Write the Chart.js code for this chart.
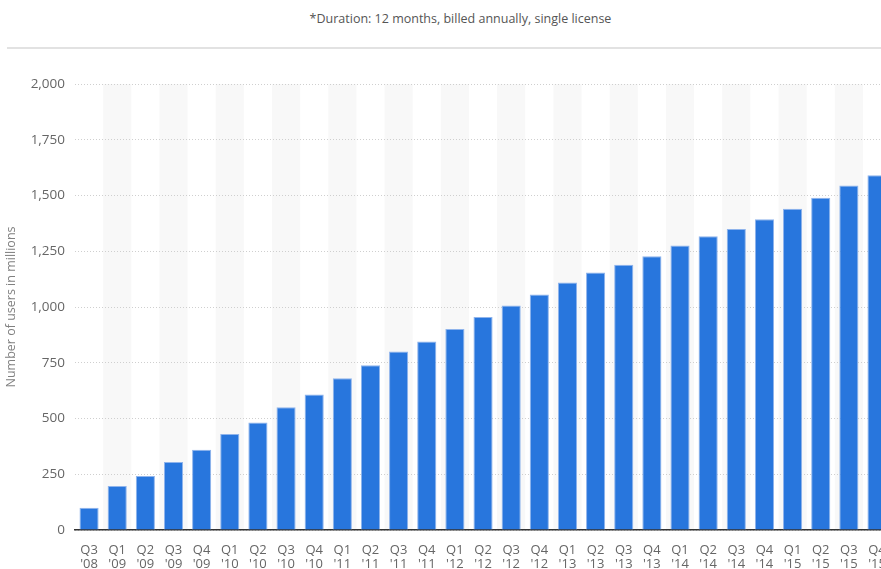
<!DOCTYPE html>
<html>
<head>
<meta charset="utf-8">
<script src="https://cdn.jsdelivr.net/npm/chart.js@4"></script>
<style>
  html, body { margin: 0; padding: 0; background: #fff; overflow: hidden; }
  body { width: 881px; height: 569px; position: relative; font-family: 'Open Sans', sans-serif; }
  .note { position: absolute; top: 10px; left: 20px; width: 881px; text-align: center; font-size: 12.5px; color: #555; }
  .rule { position: absolute; top: 47px; left: 7px; width: 874px; height: 2px; background: #e2e2e2; }
  .wrap { position: absolute; top: 55px; left: 0; width: 900px; height: 530px; }
</style>
</head>
<body>
<div class="note">*Duration: 12 months, billed annually, single license</div>
<div class="rule"></div>
<div class="wrap"><canvas id="grafica"></canvas></div>
<script>
const quarters = ['Q3', 'Q1', 'Q2', 'Q3', 'Q4', 'Q1', 'Q2', 'Q3', 'Q4', 'Q1', 'Q2', 'Q3', 'Q4',
  'Q1', 'Q2', 'Q3', 'Q4', 'Q1', 'Q2', 'Q3', 'Q4', 'Q1', 'Q2', 'Q3', 'Q4', 'Q1', 'Q2', 'Q3', 'Q4'];
const years = ["'08", "'09", "'09", "'09", "'09", "'10", "'10", "'10", "'10", "'11", "'11", "'11", "'11",
  "'12", "'12", "'12", "'12", "'13", "'13", "'13", "'13", "'14", "'14", "'14", "'14", "'15", "'15", "'15", "'15"];
const users = [100, 197, 242, 305, 360, 431, 482, 550, 608, 680, 739, 800, 845,
  901, 955, 1007, 1056, 1110, 1155, 1189, 1228, 1276, 1317, 1350, 1393, 1441, 1490, 1545, 1591];
const yTicks = [0, 250, 500, 750, 1000, 1250, 1500, 1750, 2000];

const etiquetas = quarters.map((q, i) => [q, years[i]]);

// light bands behind every other quarter
const bandas = {
  id: 'bandas',
  beforeDraw(chart) {
    const { ctx, chartArea, scales } = chart;
    const half = (chartArea.right - chartArea.left) / etiquetas.length / 2;
    ctx.save();
    ctx.fillStyle = '#f8f8f8';
    for (let i = 1; i < etiquetas.length; i += 2) {
      const x = scales.x.getPixelForValue(i);
      ctx.fillRect(x - half, chartArea.top, half * 2, chartArea.bottom - chartArea.top);
    }
    ctx.restore();
  },
};

const fuente = { family: 'Open Sans', size: 13 };

// eslint-disable-next-line no-new, no-undef
new Chart(document.querySelector('#grafica'), {
  type: 'bar',
  data: {
    labels: etiquetas,
    datasets: [{
      label: 'Users',
      data: users,
      backgroundColor: '#2876dd',
      borderColor: '#8fb4ec',
      borderWidth: { top: 1, left: 1, right: 1, bottom: 0 },
      categoryPercentage: 0.68,
      barPercentage: 1,
    }],
  },
  options: {
    responsive: true,
    maintainAspectRatio: false,
    animation: false,
    layout: { padding: { top: 29, right: 8, bottom: 0, left: 0 } },
    plugins: { legend: { display: false }, tooltip: { enabled: false } },
    scales: {
      x: {
        grid: { display: false, drawTicks: false },
        border: { display: true, color: '#333', width: 1.5 },
        ticks: {
          color: '#666', font: { ...fuente, lineHeight: '13.5px' }, padding: 14, maxRotation: 0, autoSkip: false,
        },
        afterFit(scale) { scale.height = 55; },
      },
      y: {
        min: 0,
        max: 2000,
        afterBuildTicks(scale) { scale.ticks = yTicks.map((v) => ({ value: v })); },
        grid: { color: '#cfcfcf', lineWidth: 1, drawTicks: false },
        border: { display: false, dash: [1, 2] },
        ticks: {
          color: '#666', font: { family: 'Open Sans', size: 13.5 }, padding: 10,
          callback: (v) => v.toLocaleString('en-US'),
        },
        title: {
          display: true, text: 'Number of users in millions', color: '#808080',
          font: { family: 'Open Sans', size: 12.5 }, padding: { top: 4, bottom: 0 },
        },
        afterFit(scale) { scale.width = 75; },
      },
    },
  },
  plugins: [bandas],
});
</script>
</body>
</html>
